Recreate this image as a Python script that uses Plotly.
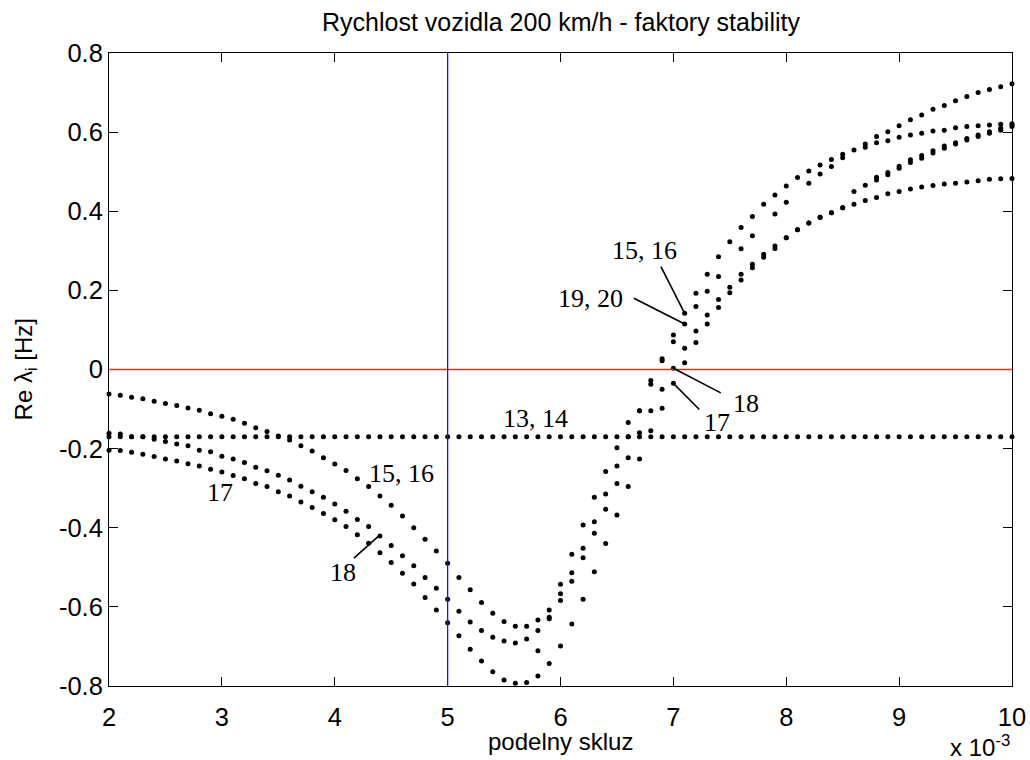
import plotly.graph_objects as go

# ---- data (slip in units of 1e-3, real part of eigenvalues in Hz) ----
slip = [2.0, 2.1, 2.2, 2.3, 2.4, 2.5, 2.6, 2.7, 2.8, 2.9,
        3.0, 3.1, 3.2, 3.3, 3.4, 3.5, 3.6, 3.7, 3.8, 3.9,
        4.0, 4.1, 4.2, 4.3, 4.4, 4.5, 4.6, 4.7, 4.8, 4.9,
        5.0, 5.1, 5.2, 5.3, 5.4, 5.5, 5.6, 5.7, 5.8, 5.9,
        6.0, 6.1, 6.2, 6.3, 6.4, 6.5, 6.6, 6.7, 6.8, 6.9,
        7.0, 7.1, 7.2, 7.3, 7.4, 7.5, 7.6, 7.7, 7.8, 7.9,
        8.0, 8.1, 8.2, 8.3, 8.4, 8.5, 8.6, 8.7, 8.8, 8.9,
        9.0, 9.1, 9.2, 9.3, 9.4, 9.5, 9.6, 9.7, 9.8, 9.9,
        10.0]

re_13_14 = [-0.170, -0.170, -0.170, -0.170, -0.170, -0.170, -0.170, -0.170, -0.170, -0.170,
            -0.170, -0.170, -0.170, -0.170, -0.170, -0.170, -0.170, -0.170, -0.170, -0.170,
            -0.170, -0.170, -0.170, -0.170, -0.170, -0.170, -0.170, -0.170, -0.170, -0.170,
            -0.170, -0.170, -0.170, -0.170, -0.170, -0.170, -0.170, -0.170, -0.170, -0.170,
            -0.170, -0.170, -0.170, -0.170, -0.170, -0.170, -0.170, -0.170, -0.170, -0.170,
            -0.170, -0.170, -0.170, -0.170, -0.170, -0.170, -0.170, -0.170, -0.170, -0.170,
            -0.170, -0.170, -0.170, -0.170, -0.170, -0.170, -0.170, -0.170, -0.170, -0.170,
            -0.170, -0.170, -0.170, -0.170, -0.170, -0.170, -0.170, -0.170, -0.170, -0.170,
            -0.170]

re_15_16 = [-0.062, -0.065, -0.070, -0.074, -0.080, -0.086, -0.091, -0.097, -0.103, -0.112,
            -0.118, -0.126, -0.136, -0.147, -0.157, -0.168, -0.178, -0.193, -0.206, -0.223,
            -0.239, -0.255, -0.276, -0.296, -0.320, -0.343, -0.370, -0.400, -0.429, -0.459,
            -0.490, -0.526, -0.557, -0.589, -0.616, -0.637, -0.649, -0.649, -0.633, -0.608,
            -0.543, -0.467, -0.393, -0.323, -0.258, -0.198, -0.134, -0.104, -0.028, 0.027,
            0.087, 0.142, 0.193, 0.241, 0.285, 0.323, 0.359, 0.387, 0.418, 0.441,
            0.464, 0.485, 0.502, 0.517, 0.531, 0.544, 0.555, 0.570, 0.589, 0.601,
            0.616, 0.631, 0.643, 0.658, 0.667, 0.679, 0.690, 0.700, 0.708, 0.715,
            0.722]

re_19_20 = [None, None, None, None, None, None, None, None, None, None,
            None, None, None, None, None, None, None, None, None, None,
            None, None, None, None, None, None, None, None, None, None,
            None, None, None, None, None, None, None, None, -0.711, -0.626,
            -0.567, -0.514, -0.452, -0.385, -0.315, -0.244, -0.170, -0.104, -0.037, 0.022,
            0.070, 0.115, 0.159, 0.198, 0.235, None, 0.305, 0.338, None, 0.393,
            0.423, None, 0.471, 0.494, 0.513, 0.535, None, 0.562, 0.573, 0.578,
            0.587, 0.593, 0.597, 0.603, 0.605, 0.611, 0.614, 0.616, 0.618, 0.620,
            0.621]

re_18 = [-0.161, -0.163, -0.170, -0.170, -0.176, -0.182, -0.188, -0.193, -0.204, -0.208,
         -0.219, -0.226, -0.235, -0.247, -0.256, -0.267, -0.279, -0.295, -0.309, -0.323,
         -0.340, -0.358, -0.379, -0.397, -0.421, -0.445, -0.471, -0.496, -0.526, -0.553,
         -0.581, -0.611, -0.638, -0.660, -0.677, -0.686, -0.691, -0.681, -0.660, -0.630,
         -0.584, -0.535, -0.476, -0.414, -0.353, -0.288, -0.223, -0.160, -0.104, -0.050,
         0.003, 0.054, 0.097, 0.138, 0.177, 0.208, 0.241, 0.266, 0.291, 0.312,
         0.333, 0.353, 0.370, 0.385, 0.396, 0.409, 0.450, 0.466, 0.486, 0.498,
         0.514, 0.530, 0.541, 0.553, 0.565, 0.573, 0.584, 0.593, 0.601, 0.610,
         0.618]

re_17 = [-0.204, -0.205, -0.209, -0.214, -0.220, -0.226, -0.231, -0.238, -0.244, -0.252,
         -0.259, -0.268, -0.276, -0.288, -0.296, -0.309, -0.320, -0.335, -0.349, -0.364,
         -0.380, -0.397, -0.418, -0.439, -0.463, -0.488, -0.515, -0.542, -0.576, -0.608,
         -0.640, -0.673, -0.707, -0.737, -0.764, -0.785, -0.793, -0.791, -0.775, -0.743,
         -0.699, -0.643, -0.581, -0.511, -0.440, -0.368, -0.296, -0.226, -0.155, -0.098,
         -0.035, 0.017, 0.068, 0.115, 0.157, 0.194, 0.226, 0.257, 0.284, 0.306,
         0.333, 0.353, 0.370, 0.385, 0.396, 0.409, 0.418, 0.427, 0.435, 0.444,
         0.450, 0.456, 0.461, 0.465, 0.469, 0.471, 0.474, 0.477, 0.481, 0.482,
         0.483]

re_extra = [None, None, None, None, None, None, None, None, None, None,
            None, None, None, None, None, None, None, None, None, None,
            None, None, None, None, None, None, None, None, None, None,
            None, None, None, None, None, None, None, None, None, None,
            None, None, None, None, None, None, None, None, None, None,
            None, None, None, None, None, None, None, None, None, None,
            None, None, None, None, None, None, None, None, 0.479, 0.492,
            0.509, 0.523, 0.534, 0.547, 0.559, 0.570, 0.580, 0.589, 0.597, 0.605,
            0.614]

x_ticks = [2, 3, 4, 5, 6, 7, 8, 9, 10]
y_ticks = [-0.8, -0.6, -0.4, -0.2, 0, 0.2, 0.4, 0.6, 0.8]
y_ticktext = ["-0.8", "-0.6", "-0.4", "-0.2", "0", "0.2", "0.4", "0.6", "0.8"]

# text labels: (text, x, y)
labels = [("13, 14", 5.78, -0.123), ("15, 16", 4.59, -0.262), ("17", 2.98, -0.310),
          ("18", 4.07, -0.512), ("15, 16", 6.74, 0.300), ("19, 20", 6.27, 0.180),
          ("18", 7.64, -0.087), ("17", 7.39, -0.135)]
# leader lines: (x0, y0, x1, y1)
leaders = [(4.17, -0.477, 4.40, -0.418), (6.89, 0.260, 7.10, 0.142),
           (6.65, 0.180, 7.10, 0.115), (7.00, 0.003, 7.42, -0.059),
           (7.00, -0.035, 7.23, -0.101)]

fig = go.Figure()
for series in [re_13_14, re_15_16, re_19_20, re_18, re_17, re_extra]:
    fig.add_trace(go.Scatter(x=slip, y=series, mode="markers",
                             marker=dict(color="black", size=5),
                             cliponaxis=False, showlegend=False, hoverinfo="skip"))

shapes = [
    dict(type="line", xref="x", yref="y", x0=2, x1=10, y0=0, y1=0,
         line=dict(color="#ff2020", width=1.3), layer="above"),
    dict(type="line", xref="x", yref="y", x0=5, x1=5, y0=-0.8, y1=0.8,
         line=dict(color="#1010ff", width=1.3), layer="above"),
]
for (x0, y0, x1, y1) in leaders:
    shapes.append(dict(type="line", xref="x", yref="y", x0=x0, y0=y0, x1=x1, y1=y1,
                       line=dict(color="black", width=1.6), layer="above"))

serif = "Liberation Serif, Times New Roman, serif"
annotations = []
for (t, lx, ly) in labels:
    annotations.append(dict(text=t, x=lx, y=ly, xref="x", yref="y", showarrow=False,
                            font=dict(family=serif, size=26, color="black")))

sans = "Liberation Sans, Arial, sans-serif"
annotations += [
    dict(text="Rychlost vozidla 200 km/h - faktory stability", x=0.5, y=1.049,
         xref="paper", yref="paper", showarrow=False, xanchor="center", yanchor="middle",
         font=dict(family=sans, size=25, color="black")),
    dict(text="podelny skluz", x=0.5, y=-0.087, xref="paper", yref="paper",
         showarrow=False, xanchor="center", yanchor="middle",
         font=dict(family=sans, size=24, color="black")),
    dict(text="x 10<sup>-3</sup>", x=1.0, y=-0.094, xref="paper", yref="paper",
         showarrow=False, xanchor="right", yanchor="middle",
         font=dict(family=sans, size=24, color="black")),
    dict(text="Re λ<sub>i</sub> [Hz]", x=-0.092, y=0.5, xref="paper", yref="paper",
         showarrow=False, xanchor="center", yanchor="middle", textangle=-90,
         font=dict(family=sans, size=24, color="black")),
]

axis_common = dict(showgrid=False, zeroline=False, showline=True, linecolor="black",
                   linewidth=1, mirror="ticks", ticks="inside", ticklen=9,
                   tickwidth=1, tickcolor="black", automargin=False,
                   tickfont=dict(family=sans, size=25.5, color="black"))

fig.update_layout(
    width=1030, height=760,
    margin=dict(l=109, r=18, t=53, b=74, pad=0),
    paper_bgcolor="white", plot_bgcolor="white",
    xaxis=dict(range=[2, 10], tickvals=x_ticks, ticktext=[str(v) for v in x_ticks],
               ticklabelstandoff=8, **axis_common),
    yaxis=dict(range=[-0.8, 0.8], tickvals=y_ticks, ticktext=y_ticktext,
               ticklabelstandoff=0, **axis_common),
    shapes=shapes, annotations=annotations,
)

fig.write_html("out.html", config={"displayModeBar": False},
               post_script="document.body.style.margin='0px';"
                           "document.body.style.padding='0px';"
                           "document.body.style.overflow='hidden';")
